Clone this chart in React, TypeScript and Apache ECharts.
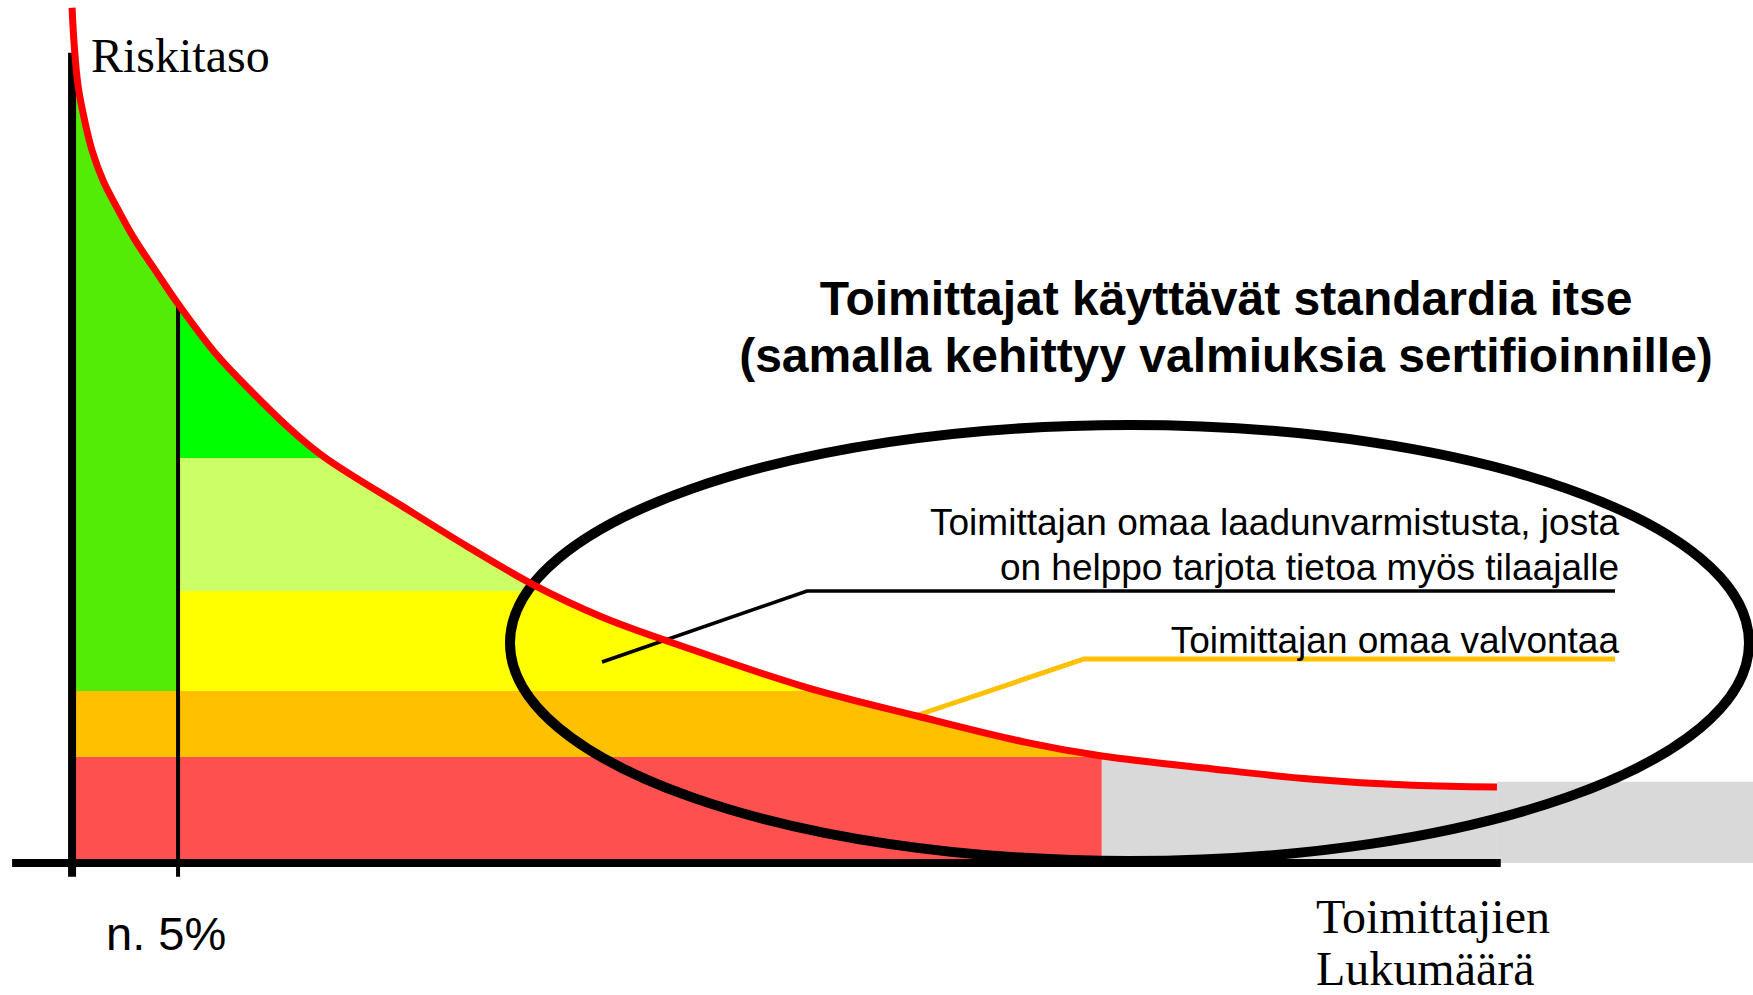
import React, { useEffect, useRef } from "react";
import * as echarts from "echarts";

// Risk-level curve (x: share of suppliers, abstract units; y: risk level)
const curveShare = [0, 0.1, 0.28, 0.57, 0.94, 1.46, 2.17, 2.97, 3.92, 5, 6.65, 7.92, 10.28, 12.03, 15.47, 18.63, 21.79, 24.91, 28.11, 34.43, 39.91, 44.95, 48.58, 53.82, 58.54, 63.25, 67.22];
const curveRisk = [99.1, 94.8, 90.1, 86.3, 82.6, 79.1, 75.7, 72.2, 68.7, 64.8, 59.4, 56.0, 50.3, 46.8, 41.5, 36.7, 32.2, 28.6, 25.7, 20.5, 17.0, 14.0, 12.4, 10.9, 9.7, 9.0, 8.8];

const certifiedShare = 5; // "n. 5%"
const colouredEnd = 48.58; // where the coloured bands stop
const grayTailRisk = 9.4;
const bandBounds = [12.3, 19.9, 31.5, 46.9];
const bandColors = ["#ff5050", "#ffc000", "#ffff00", "#ccff66", "#00ff00"];
const leftColumnColors = ["#ff5050", "#ffc000", "#52ec06"];
const grayColor = "#d9d9d9";

const xMin = -3.4;
const xMax = 79.3;
const yMin = -15.3;
const yMax = 100;
const xAxisLineRange = [-2.83, 67.4];
const yAxisLineTop = 93.9;
const tickBottom = -1.6;

const W = 1753;
const H = 995;

export default function App() {
  const ref = useRef<HTMLDivElement>(null);

  useEffect(() => {
    if (!ref.current) return;
    const chart = echarts.init(ref.current, undefined, { renderer: "svg", width: W, height: H });

    const pts = curveShare.map((x, i) => [x, curveRisk[i]]);
    const leftPts = pts.filter((p) => p[0] <= certifiedShare);
    const midPts = pts.filter((p) => p[0] >= certifiedShare && p[0] <= colouredEnd);
    const grayPts = pts.filter((p) => p[0] >= colouredEnd);
    const lastX = curveShare[curveShare.length - 1];
    const tailPts = [
      [lastX, grayTailRisk],
      [xMax, grayTailRisk],
    ];
    const fivePct = curveRisk[curveShare.indexOf(certifiedShare)];
    const smooth = 0.35;

    const areaBase = {
      type: "line",
      smooth,
      symbol: "none",
      silent: true,
      lineStyle: { width: 0 },
      z: 1,
    };

    const blackLine = (data: number[][], width: number) => ({
      type: "line",
      data,
      symbol: "none",
      silent: true,
      lineStyle: { color: "#000", width, cap: "butt" },
      z: 4,
    });

    const sansFont = '"Liberation Sans", Arial, sans-serif';
    const serifFont = '"Liberation Serif", "Times New Roman", serif';

    chart.setOption({
      animation: false,
      backgroundColor: "#ffffff",
      grid: { left: 0, right: 0, top: 0, bottom: 0 },
      xAxis: { type: "value", min: xMin, max: xMax, show: false },
      yAxis: { type: "value", min: yMin, max: yMax, show: false },
      visualMap: [
        {
          type: "piecewise",
          show: false,
          seriesIndex: 0,
          dimension: 1,
          pieces: [
            { lt: bandBounds[0], color: leftColumnColors[0] },
            { gte: bandBounds[0], lt: bandBounds[1], color: leftColumnColors[1] },
            { gte: bandBounds[1], color: leftColumnColors[2] },
          ],
        },
        {
          type: "piecewise",
          show: false,
          seriesIndex: 1,
          dimension: 1,
          pieces: [
            { lt: bandBounds[0], color: bandColors[0] },
            { gte: bandBounds[0], lt: bandBounds[1], color: bandColors[1] },
            { gte: bandBounds[1], lt: bandBounds[2], color: bandColors[2] },
            { gte: bandBounds[2], lt: bandBounds[3], color: bandColors[3] },
            { gte: bandBounds[3], color: bandColors[4] },
          ],
        },
      ],
      series: [
        { ...areaBase, name: "left", data: leftPts, areaStyle: { opacity: 1 } },
        { ...areaBase, name: "bands", data: midPts, areaStyle: { opacity: 1 } },
        { ...areaBase, name: "gray", data: grayPts, itemStyle: { color: grayColor }, areaStyle: { color: grayColor, opacity: 1 } },
        { ...areaBase, name: "grayTail", smooth: false, data: tailPts, itemStyle: { color: grayColor }, areaStyle: { color: grayColor, opacity: 1 } },
        blackLine([[xAxisLineRange[0], 0], [xAxisLineRange[1], 0]], 8),
        blackLine([[0, tickBottom], [0, yAxisLineTop]], 8),
        blackLine([[certifiedShare, tickBottom], [certifiedShare, fivePct]], 4),
        {
          type: "line",
          name: "Riskitaso",
          data: pts,
          smooth,
          symbol: "none",
          silent: true,
          lineStyle: { color: "#ff0000", width: 7 },
          z: 6,
        },
      ],
      graphic: {
        elements: [
          {
            type: "ellipse",
            z: 3,
            silent: true,
            shape: { cx: 1129.5, cy: 643, rx: 619.5, ry: 218 },
            style: { fill: "none", stroke: "#000", lineWidth: 10 },
          },
          {
            type: "polyline",
            z: 5,
            silent: true,
            shape: { points: [[602, 662], [807, 591], [1615, 591]] },
            style: { fill: "none", stroke: "#000", lineWidth: 3.5 },
          },
          {
            type: "polyline",
            z: 5,
            silent: true,
            shape: { points: [[918, 715], [1084, 659], [1615, 659]] },
            style: { fill: "none", stroke: "#ffc000", lineWidth: 5 },
          },
          {
            type: "text", z: 7, x: 91, y: 55.7,
            style: { text: "Riskitaso", font: `48px ${serifFont}`, fill: "#000", align: "left", verticalAlign: "middle" },
          },
          {
            type: "text", z: 7, x: 106, y: 933.5,
            style: { text: "n. 5%", font: `47px ${sansFont}`, fill: "#000", align: "left", verticalAlign: "middle" },
          },
          {
            type: "text", z: 7, x: 1316, y: 916.8,
            style: { text: "Toimittajien", font: `48px ${serifFont}`, fill: "#000", align: "left", verticalAlign: "middle" },
          },
          {
            type: "text", z: 7, x: 1316, y: 968.5,
            style: { text: "Lukumäärä", font: `48px ${serifFont}`, fill: "#000", align: "left", verticalAlign: "middle" },
          },
          {
            type: "text", z: 7, x: 1226, y: 298.5,
            style: { text: "Toimittajat käyttävät standardia itse", font: `bold 48px ${sansFont}`, fill: "#000", align: "center", verticalAlign: "middle" },
          },
          {
            type: "text", z: 7, x: 1226, y: 355,
            style: { text: "(samalla kehittyy valmiuksia sertifioinnille)", font: `bold 48px ${sansFont}`, fill: "#000", align: "center", verticalAlign: "middle" },
          },
          {
            type: "text", z: 7, x: 1619, y: 522.2,
            style: { text: "Toimittajan omaa laadunvarmistusta, josta", font: `37px ${sansFont}`, fill: "#000", align: "right", verticalAlign: "middle" },
          },
          {
            type: "text", z: 7, x: 1619, y: 567.2,
            style: { text: "on helppo tarjota tietoa myös tilaajalle", font: `37px ${sansFont}`, fill: "#000", align: "right", verticalAlign: "middle" },
          },
          {
            type: "text", z: 7, x: 1619, y: 640.2,
            style: { text: "Toimittajan omaa valvontaa", font: `37px ${sansFont}`, fill: "#000", align: "right", verticalAlign: "middle" },
          },
        ],
      },
    });

    return () => chart.dispose();
  }, []);

  return (
    <div
      ref={ref}
      style={{ position: "fixed", left: 0, top: 0, width: W, height: H, background: "#fff" }}
    />
  );
}
